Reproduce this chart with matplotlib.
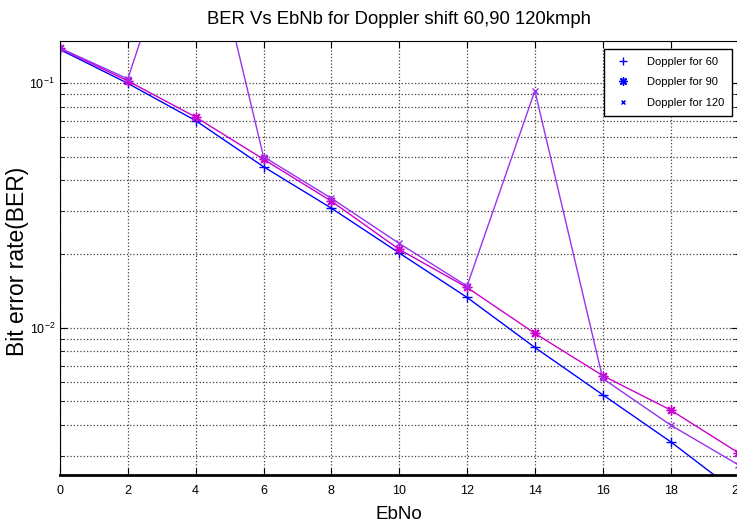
import matplotlib
matplotlib.use('Agg')
import matplotlib.pyplot as plt
from matplotlib.lines import Line2D
from matplotlib.ticker import LogLocator, NullFormatter

# EbNo points (dB)
ebno = [0, 2, 4, 6, 8, 10, 12, 14, 16, 18, 20]

# BER values
ber_60 = [0.137, 0.0997, 0.0702, 0.0455, 0.0308, 0.0202, 0.0133, 0.0083, 0.00532, 0.00342, 0.0021]
ber_90 = [0.1386, 0.102, 0.0726, 0.0488, 0.0329, 0.0209, 0.0146, 0.00948, 0.00637, 0.00461, 0.00308]
ber_120 = [0.139, 0.104, 0.72, 0.050, 0.0338, 0.0221, 0.0148, 0.093, 0.0062, 0.0040, 0.00275]

legend_labels = ['Doppler for 60', 'Doppler for 90', 'Doppler for 120']

plt.rcParams['font.family'] = ['Liberation Sans', 'DejaVu Sans']
plt.rcParams['mathtext.default'] = 'regular'

asterisk = (8, 2, 0)

fig = plt.figure(figsize=(7.37, 5.26), dpi=100)
ax = fig.add_axes([0.0814, 0.097, 0.9205, 0.825])

ax.plot(ebno, ber_60, color='#0000ff', marker='+', markersize=7, lw=1)
ax.plot(ebno, ber_90, color='#cc00cc', marker=asterisk, markersize=7, lw=1)
ax.plot(ebno, ber_120, color='#9933ee', marker='x', markersize=4, lw=1)

ax.set_yscale('log')
ax.set_xlim(0, 20)
ax.set_ylim(0.0025, 0.1485)
ax.set_xticks(ebno)
ax.yaxis.set_major_locator(LogLocator(base=10))
ax.yaxis.set_minor_locator(LogLocator(base=10, subs=range(2, 10)))
ax.yaxis.set_minor_formatter(NullFormatter())

ax.grid(True, which='major', axis='both', color='0.25', ls=':', lw=0.9)
ax.grid(True, which='minor', axis='y', color='0.25', ls=':', lw=0.9)

ax.tick_params(which='both', direction='in', top=True, right=True, labelsize=9)
ax.tick_params(which='major', length=5)
ax.tick_params(which='minor', length=3)
ax.tick_params(axis='x', pad=7)

for s in ax.spines.values():
    s.set_linewidth(0.8)
ax.spines['bottom'].set_linewidth(2)

ax.set_title('BER Vs EbNb for Doppler shift 60,90 120kmph', fontsize=13.3, pad=12)
ax.set_xlabel('EbNo', fontsize=13.5, labelpad=7)
ax.set_ylabel('Bit error rate(BER)', fontsize=16.5)
ax.yaxis.set_label_coords(-0.046, 0.493)

handles = [Line2D([], [], color='#0000ff', marker=m, ls='none', markersize=ms)
           for m, ms in [('+', 6), (asterisk, 6), ('x', 3.5)]]
leg = ax.legend(handles, legend_labels, loc='upper right',
                bbox_to_anchor=(732 / 737, 1 - 49 / 526), bbox_transform=fig.transFigure,
                borderaxespad=0, prop={'size': 8}, fancybox=False, framealpha=1,
                edgecolor='black', borderpad=0.7, labelspacing=0.95, handletextpad=1.2)
leg.get_frame().set_linewidth(1)

fig.savefig('out.png', dpi=100)
